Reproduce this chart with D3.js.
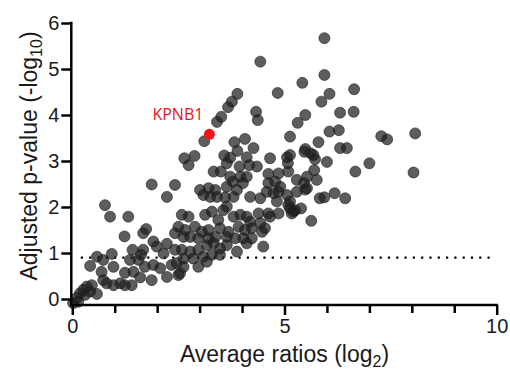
<!DOCTYPE html>
<html>
<head>
<meta charset="utf-8">
<script src="https://cdn.jsdelivr.net/npm/d3@7"></script>
<style>
  body { margin: 0; background: #fff; }
  svg { display: block; }
  .axis text { font-family: "Liberation Sans", Arial, sans-serif; font-size: 20px; fill: #1a1a1a; }
  .axis line { stroke: #000; stroke-width: 2.5px; }
  .axis path { display: none; }
</style>
</head>
<body>
<div id="chart"></div>
<script>
// average ratios (log2) per protein
const ratios = [
  5.94, 4.43, 5.94, 5.42, 6.64, 4.84, 6.06, 3.89, 3.76, 5.87, 3.67, 4.33, 6.31, 6.63, 5.49, 3.51,
  4.37, 3.41, 5.31, 6.06, 6.28, 8.08, 7.28, 7.42, 5.13, 3.11, 4.07, 3.82, 5.80, 3.89, 4.27, 5.49,
  6.31, 6.47, 2.88, 2.64, 2.74, 3.58, 3.72, 3.64, 4.11, 4.17, 4.35, 3.94, 4.66, 5.06, 5.13, 5.47,
  5.61, 5.68, 5.72, 6.00, 5.08, 7.00, 6.67, 8.04, 4.62, 4.86, 5.09, 5.29, 5.53, 5.70, 5.76, 5.46,
  5.49, 5.29, 6.18, 5.83, 5.94, 6.43, 5.13, 5.13, 5.21, 5.39, 5.63, 5.53, 3.33, 3.50, 3.72, 3.78,
  4.02, 3.96, 4.11, 4.62, 4.78, 4.90, 4.74, 5.06, 4.86, 4.58, 3.88, 3.64, 3.37, 3.01, 3.21, 2.42,
  1.87, 2.23, 3.09, 3.41, 3.80, 4.19, 3.25, 3.60, 4.43, 4.82, 5.09, 5.25, 5.17, 2.58, 2.74, 3.13,
  3.29, 3.44, 3.56, 3.64, 3.80, 3.96, 4.11, 4.19, 4.39, 4.62, 4.66, 4.86, 4.43, 4.54, 2.89, 2.66,
  3.05, 3.21, 3.48, 3.68, 3.92, 4.07, 4.23, 4.47, 2.78, 2.97, 3.21, 3.37, 3.64, 3.84, 4.03, 4.23,
  2.58, 2.78, 2.97, 3.17, 3.33, 3.48, 3.64, 3.88, 4.11, 4.50, 2.62, 2.85, 3.09, 3.29, 3.48, 2.62,
  2.97, 3.17, 2.54, 0.77, 0.89, 1.32, 1.74, 1.67, 1.23, 2.50, 2.42, 2.62, 1.91, 1.99, 2.23, 2.42,
  2.15, 1.42, 1.67, 1.62, 0.93, 0.58, 0.73, 1.36, 0.42, 0.69, 0.97, 1.24, 1.44, 1.60, 1.56, 1.71,
  1.91, 2.07, 2.23, 1.87, 2.50, 2.34, 2.46, 0.81, 0.97, 1.13, 1.24, 1.40, 0.73, 0.34, 0.46, 0.58,
  0.26, 0.18, 0.10, 0.02, 0.14, 0.30, 0.42
];

// adjusted p-value (-log10), same order as ratios
const pvals = [
  5.67, 5.16, 4.87, 4.70, 4.56, 4.48, 4.46, 4.46, 4.29, 4.29, 4.17, 4.07, 4.05, 4.07, 4.00, 3.96,
  3.89, 3.85, 3.83, 3.64, 3.67, 3.60, 3.54, 3.47, 3.53, 3.43, 3.48, 3.41, 3.41, 3.22, 3.28, 3.26,
  3.28, 3.28, 3.11, 3.06, 2.91, 3.12, 3.07, 2.95, 3.08, 2.91, 2.88, 2.88, 3.06, 3.08, 3.13, 3.20,
  3.17, 3.13, 3.04, 2.98, 2.95, 2.95, 2.77, 2.75, 2.72, 2.73, 2.77, 2.59, 2.66, 2.80, 2.59, 2.52,
  2.38, 2.33, 2.30, 2.19, 2.21, 2.19, 2.12, 1.97, 1.90, 1.97, 1.70, 2.41, 2.77, 2.77, 2.66, 2.55,
  2.52, 2.66, 2.66, 2.52, 2.55, 2.44, 2.30, 2.26, 2.33, 2.33, 2.37, 2.44, 2.37, 2.37, 2.41, 2.48,
  2.49, 2.22, 2.26, 2.22, 2.22, 2.22, 2.22, 2.21, 2.19, 2.12, 2.04, 1.93, 1.86, 1.83, 1.79, 1.83,
  1.90, 1.72, 1.93, 2.01, 1.79, 1.83, 1.79, 1.68, 1.86, 1.86, 1.79, 1.86, 1.65, 1.54, 1.57, 1.50,
  1.46, 1.50, 1.54, 1.46, 1.57, 1.50, 1.54, 1.46, 1.35, 1.32, 1.32, 1.35, 1.35, 1.32, 1.32, 1.32,
  1.07, 1.03, 1.07, 1.17, 1.21, 1.10, 1.17, 1.03, 1.21, 1.14, 0.88, 0.88, 0.92, 0.96, 0.96, 0.70,
  0.70, 0.81, 0.56, 2.04, 1.79, 1.79, 1.52, 1.43, 1.36, 1.57, 1.43, 1.35, 1.25, 1.14, 1.20, 1.07,
  0.99, 1.07, 1.07, 0.96, 0.98, 0.92, 0.85, 0.85, 0.72, 0.59, 0.70, 0.57, 0.59, 0.47, 0.85, 0.70,
  0.74, 0.67, 0.48, 0.41, 0.52, 0.74, 0.78, 0.34, 0.30, 0.34, 0.30, 0.30, 0.41, 0.27, 0.30, 0.11,
  0.20, 0.12, 0.02, -0.09, -0.06, 0.09, 0.16
];

// highlighted protein
const hitNames = ["KPNB1"];
const hitRatios = [3.23];
const hitPvals = [3.58];

const xTicks = [0, 5, 10];
const xMinorTicks = [1, 2, 3, 4, 6, 7, 8, 9];
const yTicks = [0, 1, 2, 3, 4, 5, 6];
const cutoff = 0.9;
const cutoffRange = [0.2, 9.85];

const width = 510, height = 370;
const svg = d3.select("#chart").append("svg")
  .attr("width", width)
  .attr("height", height);

const x = d3.scaleLinear().domain([0, 10]).range([72.3, 496.7]);
const y = d3.scaleLinear().domain([0, 6]).range([299, 23]);
const xAxisY = 305;
const yAxisX = x(0) - 1;

// cutoff line
svg.append("line")
  .attr("x1", x(cutoffRange[0]))
  .attr("x2", x(cutoffRange[1]))
  .attr("y1", y(cutoff))
  .attr("y2", y(cutoff))
  .attr("stroke", "#000")
  .attr("stroke-width", 2.2)
  .attr("stroke-dasharray", "2.2,6.1");

// points
const pts = ratios.map((r, i) => ({ r: r, p: pvals[i] }));
svg.append("g")
  .selectAll("circle")
  .data(pts)
  .join("circle")
  .attr("cx", d => x(d.r))
  .attr("cy", d => y(d.p))
  .attr("r", 5.5)
  .attr("fill", "#1e1e1e")
  .attr("fill-opacity", 0.72)
  .attr("stroke", "#1e1e1e")
  .attr("stroke-opacity", 0.6)
  .attr("stroke-width", 1);

const hits = hitNames.map((n, i) => ({ name: n, r: hitRatios[i], p: hitPvals[i] }));
svg.append("g")
  .selectAll("circle")
  .data(hits)
  .join("circle")
  .attr("cx", d => x(d.r))
  .attr("cy", d => y(d.p))
  .attr("r", 5.5)
  .attr("fill", "#f0141e");

svg.append("g")
  .selectAll("text")
  .data(hits)
  .join("text")
  .attr("x", d => x(d.r) - 6)
  .attr("y", d => y(d.p) - 14)
  .attr("text-anchor", "end")
  .attr("font-family", "'Open Sans', sans-serif")
  .attr("font-size", 16)
  .attr("fill", "#e8141c")
  .text(d => d.name);

// axes
svg.append("g")
  .attr("class", "axis")
  .attr("transform", `translate(0,${xAxisY})`)
  .call(d3.axisBottom(x).tickValues(xTicks).tickSize(10).tickSizeOuter(0).tickPadding(4).tickFormat(d3.format("d")));

svg.append("g")
  .attr("class", "axis")
  .attr("transform", `translate(0,${xAxisY})`)
  .call(d3.axisBottom(x).tickValues(xMinorTicks).tickSize(8).tickSizeOuter(0).tickFormat(""));

svg.append("g")
  .attr("class", "axis")
  .attr("transform", `translate(${yAxisX},0)`)
  .call(d3.axisLeft(y).tickValues(yTicks).tickSize(10).tickSizeOuter(0).tickPadding(2).tickFormat(d3.format("d")));

svg.append("line")
  .attr("x1", x(0) - 2.2)
  .attr("x2", x(10) + 1.2)
  .attr("y1", xAxisY)
  .attr("y2", xAxisY)
  .attr("stroke", "#000")
  .attr("stroke-width", 2.5);

svg.append("line")
  .attr("x1", yAxisX)
  .attr("x2", yAxisX)
  .attr("y1", y(6) - 1.2)
  .attr("y2", xAxisY + 1.2)
  .attr("stroke", "#000")
  .attr("stroke-width", 2.5);

// axis titles
const xTitle = svg.append("text")
  .attr("x", x(5))
  .attr("y", 362)
  .attr("text-anchor", "middle")
  .attr("font-family", "'Liberation Sans', Arial, sans-serif")
  .attr("font-size", 23)
  .attr("fill", "#1a1a1a");
xTitle.append("tspan").text("Average ratios (log");
xTitle.append("tspan").attr("font-size", 16).attr("dy", 5).text("2");
xTitle.append("tspan").attr("dy", -5).text(")");

const yTitle = svg.append("text")
  .attr("transform", `translate(37,${(y(6) + xAxisY) / 2 - 8}) rotate(-90)`)
  .attr("text-anchor", "middle")
  .attr("font-family", "'Liberation Sans', Arial, sans-serif")
  .attr("font-size", 23)
  .attr("fill", "#1a1a1a");
yTitle.append("tspan").text("Adjusted p-value (-log");
yTitle.append("tspan").attr("font-size", 16).attr("dy", 5).text("10");
yTitle.append("tspan").attr("dy", -5).text(")");
</script>
</body>
</html>
